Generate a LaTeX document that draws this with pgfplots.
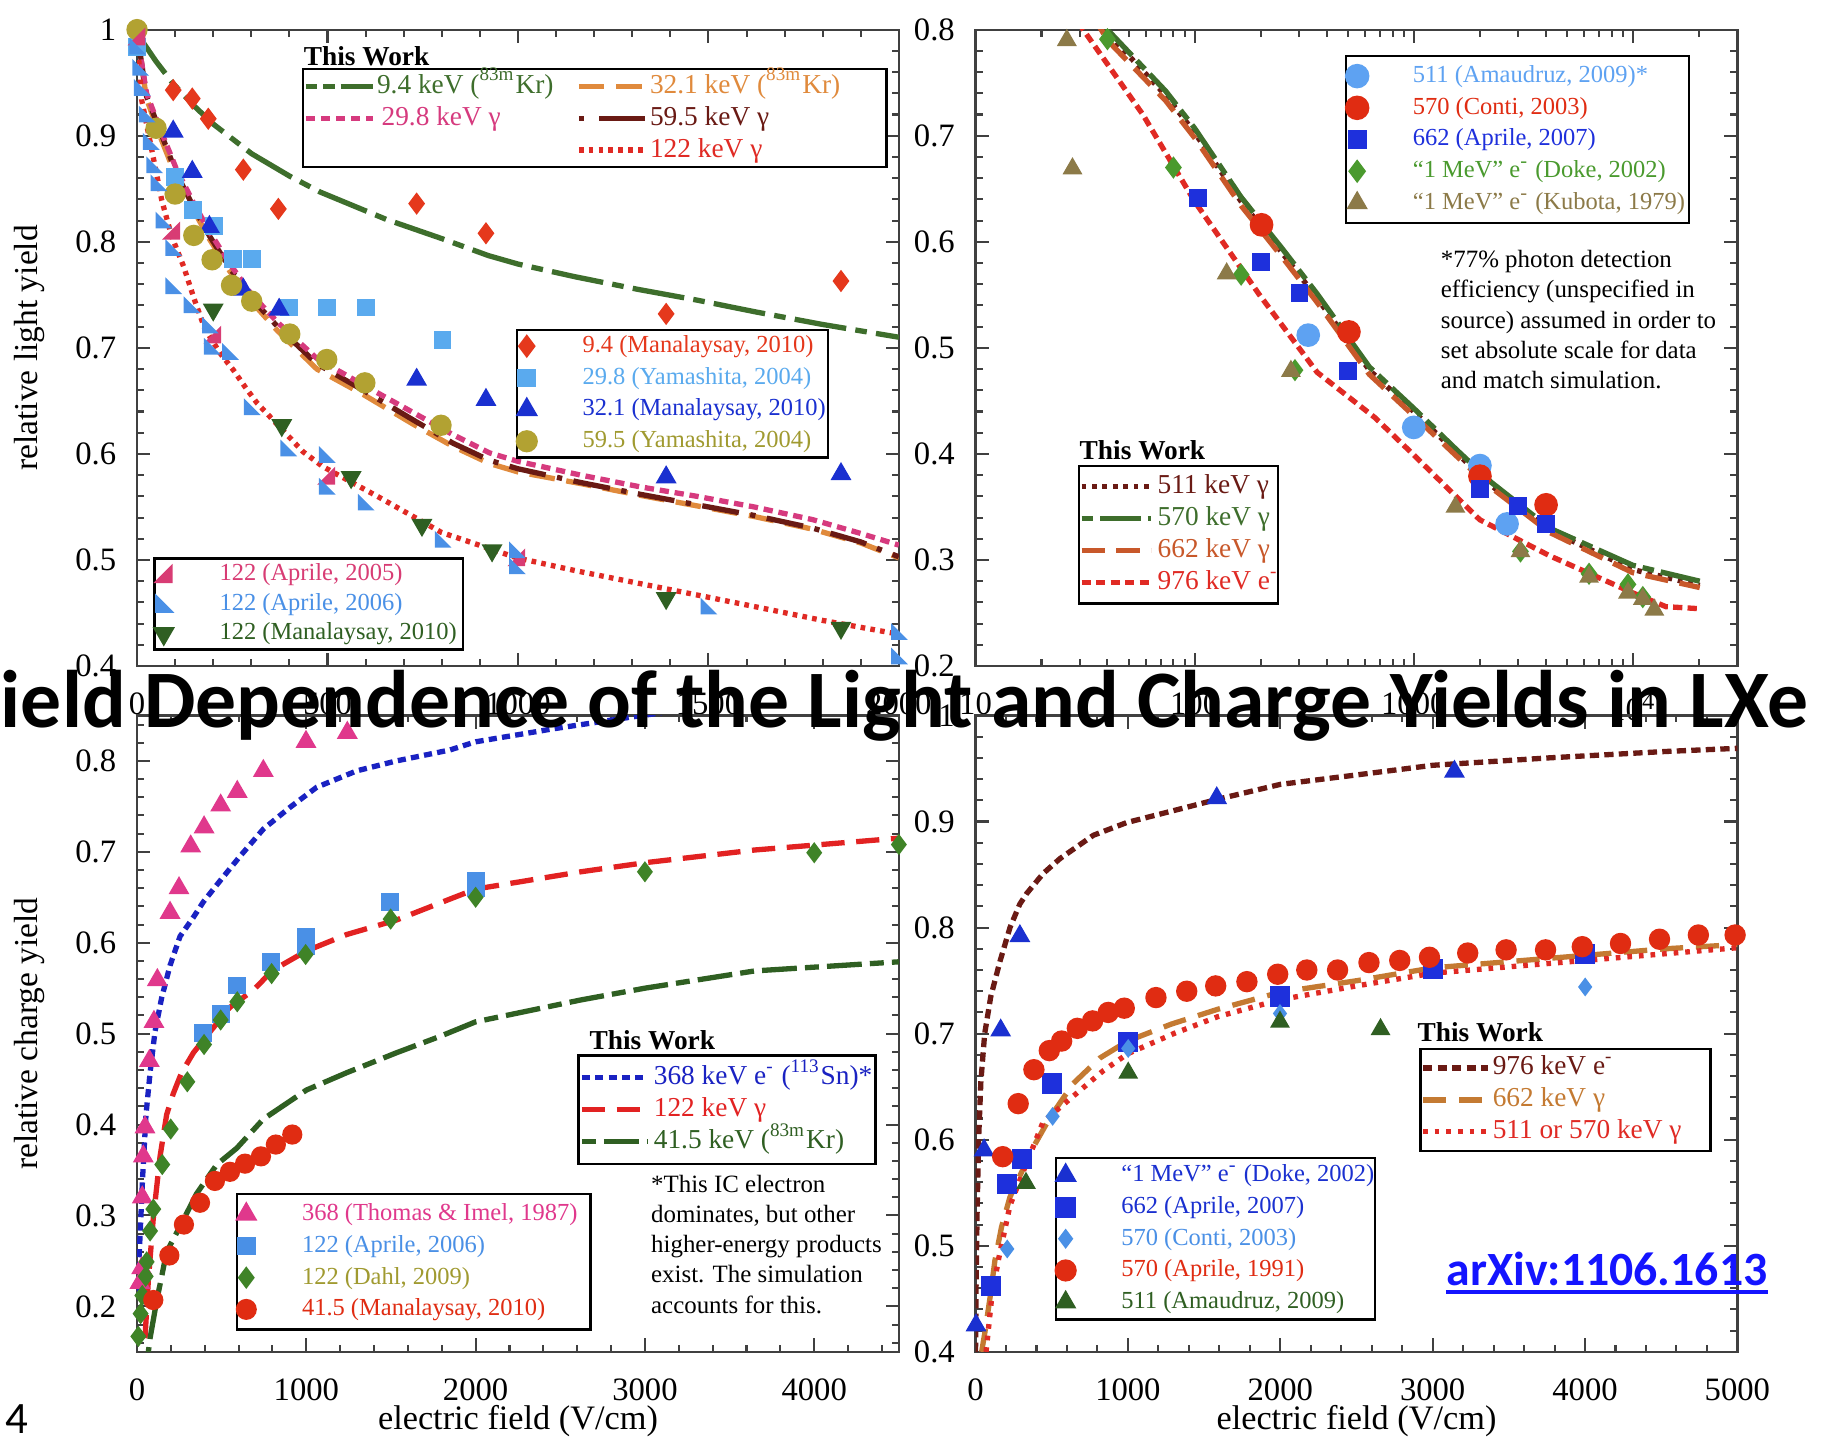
\documentclass[border=0pt]{standalone}
\usepackage{fontspec}
\setmainfont{Liberation Serif}
\newfontfamily\calibri{Carlito}
\usepackage{pgfplots}
\pgfplotsset{compat=1.18}

\definecolor{kgreen}{HTML}{3E6E2C}
\definecolor{korange}{HTML}{E08A3C}
\definecolor{kpink}{HTML}{D63A7E}
\definecolor{kmaroon}{HTML}{6A1A14}
\definecolor{kred}{HTML}{E02A24}
\definecolor{dred}{HTML}{E5381C}
\definecolor{lblue}{HTML}{5AAAEE}
\definecolor{dblue}{HTML}{1A30D0}
\definecolor{olive}{HTML}{B2A232}
\definecolor{olivet}{HTML}{A09A30}
\definecolor{apink}{HTML}{D83C74}
\definecolor{ablue}{HTML}{4A90E6}
\definecolor{mgreen}{HTML}{2F5F22}
\definecolor{cblue}{HTML}{5EA2F2}
\definecolor{cred}{HTML}{E02C12}
\definecolor{sblue}{HTML}{1E30DC}
\definecolor{dgreen}{HTML}{4A9A2E}
\definecolor{kbrown}{HTML}{8C7A48}
\definecolor{oranger}{HTML}{C8582A}
\definecolor{tpink}{HTML}{E0388C}
\definecolor{bluec}{HTML}{1A22C2}
\definecolor{redc}{HTML}{E22222}
\definecolor{brownc}{HTML}{C47A32}
\definecolor{linkblue}{HTML}{1414FF}

\pgfdeclareplotmark{ltri}{%
 \pgfpathmoveto{\pgfqpoint{-\pgfplotmarksize}{\pgfplotmarksize}}%
 \pgfpathlineto{\pgfqpoint{-\pgfplotmarksize}{-\pgfplotmarksize}}%
 \pgfpathlineto{\pgfqpoint{\pgfplotmarksize}{-\pgfplotmarksize}}%
 \pgfpathclose\pgfusepathqfillstroke}
\pgfdeclareplotmark{rtri}{%
 \pgfpathmoveto{\pgfqpoint{\pgfplotmarksize}{\pgfplotmarksize}}%
 \pgfpathlineto{\pgfqpoint{\pgfplotmarksize}{-\pgfplotmarksize}}%
 \pgfpathlineto{\pgfqpoint{-\pgfplotmarksize}{-\pgfplotmarksize}}%
 \pgfpathclose\pgfusepathqfillstroke}

\newcommand{\wb}[2]{\makebox[#1][l]{#2}}

\pgfplotsset{
  panel/.style={scale only axis, width=65.6mm, height=54.8mm, clip mode=individual,
    axis line style={black!75, line width=0.55pt},
    tick style={black!75, line width=0.5pt},
    tick align=inside, major tick length=1.15mm, minor tick length=0.6mm,
    tick label style={font=\fontsize{8}{9}\selectfont},
    /pgf/number format/assume math mode=true,
    /pgf/number format/1000 sep={},
    scaled ticks=false,
    xticklabel style={yshift=-1.1mm},
    yticklabel style={xshift=-0.55mm},
    every axis y label/.style={at={(axis description cs:-0.1418,0.5)}, rotate=90, anchor=center, font=\fontsize{8.2}{9}\selectfont},
    every axis x label/.style={at={(axis description cs:0.5,-0.1095)}, anchor=center, font=\fontsize{8.4}{10}\selectfont},
  },
  hid/.style={scale only axis, width=65.6mm, height=54.8mm, hide axis,
    xmin=0, xmax=1, ymin=0, ymax=1, legend cell align=left},
  dleg/.style={legend style={draw=black, line width=0.6pt, fill=white,
      inner xsep=0pt, inner ysep=#1, anchor=north west, column sep=0pt, row sep=0.43mm,
      font=\fontsize{6.0}{7}\selectfont,
      nodes={inner xsep=0.15mm, inner ysep=0.1mm, text height=1.6mm, text depth=0.5mm}},
    legend image code/.code={\path[draw=none] (0mm,0mm) -- (5.45mm,0mm); \draw[##1] plot coordinates {(0.8mm,0mm)};}},
  twleg/.style={legend style={draw=black, line width=0.6pt, fill=white,
      inner xsep=0pt, inner ysep=#1, anchor=north west, column sep=0pt, row sep=0.25mm,
      font=\fontsize{6.7}{8}\selectfont,
      nodes={inner xsep=0.15mm, inner ysep=0.1mm, text height=1.75mm, text depth=0.55mm}}},
  lw/.style={line width=1.3pt},
}

\begin{document}
\begin{tikzpicture}
\useasboundingbox (0,0) rectangle (156.8mm,124mm);

%================ TOP LEFT =================
\begin{axis}[panel, at={(11.8mm,66.65mm)}, anchor=south west,
  xmin=0, xmax=2000, ymin=0.4, ymax=1,
  xtick={0,500,1000,1500,2000}, minor x tick num=4,
  ytick={0.4,0.5,0.6,0.7,0.8,0.9,1}, minor y tick num=4,
  ylabel={relative light yield}]
\addplot[kgreen, lw, dash pattern=on 4.5mm off 0.8mm on 1mm off 0.8mm] coordinates {
(0,1.0) (12,0.99) (50,0.97) (95,0.949) (150,0.928) (200,0.911) (301,0.883) (400,0.862) (480,0.847) (655,0.821) (800,0.803) (922,0.787) (1000,0.779) (1150,0.767) (1317,0.755) (1470,0.745) (1622,0.734) (1800,0.722) (2000,0.710)};
\addplot[korange, lw, dash pattern=on 2.2mm off 1mm] coordinates {
(0,1.0) (8,0.975) (25,0.935) (60,0.90) (104,0.86) (148,0.83) (191,0.802) (244,0.772) (297,0.745) (369,0.716) (472,0.68) (594,0.656) (725,0.628) (830,0.607) (925,0.591) (1000,0.583) (1165,0.572) (1320,0.561) (1470,0.551) (1620,0.541) (1774,0.529) (1900,0.516) (2000,0.502)};
\addplot[kmaroon, lw, dash pattern=on 0.45mm off 1mm on 3.2mm off 1mm] coordinates {
(0,1.0) (8,0.978) (25,0.937) (60,0.905) (104,0.864) (148,0.833) (191,0.805) (244,0.775) (297,0.748) (369,0.72) (472,0.685) (594,0.660) (725,0.632) (830,0.61) (925,0.594) (1000,0.586) (1165,0.573) (1320,0.562) (1470,0.552) (1620,0.542) (1774,0.530) (1900,0.517) (2000,0.503)};
\addplot[kpink, lw, dash pattern=on 0.8mm off 0.5mm] coordinates {
(0,1.0) (8,0.978) (25,0.94) (60,0.907) (104,0.868) (148,0.837) (191,0.809) (244,0.779) (297,0.752) (369,0.724) (472,0.69) (594,0.665) (725,0.639) (830,0.618) (925,0.601) (1000,0.593) (1165,0.580) (1320,0.569) (1470,0.560) (1620,0.550) (1774,0.538) (1900,0.525) (2000,0.514)};
\addplot[kred, lw, dash pattern=on 0.4mm off 0.45mm] coordinates {
(0,0.99) (6,0.965) (12,0.934) (39,0.886) (65,0.839) (91,0.805) (122,0.777) (152,0.744) (178,0.718) (218,0.695) (253,0.679) (284,0.663) (315,0.648) (357,0.632) (436,0.602) (488,0.588) (631,0.56) (799,0.526) (997,0.502) (1150,0.49) (1317,0.478) (1470,0.467) (1622,0.456) (1800,0.443) (2000,0.43)};
\addplot[only marks, mark=diamond*, mark size=0.85mm, dred] coordinates {
(95,0.943) (145,0.935) (187,0.916) (279,0.868) (371,0.831) (734,0.836) (916,0.808) (1389,0.732) (1848,0.763)};
\addplot[only marks, mark=square*, mark size=0.7mm, lblue] coordinates {
(0,0.984) (100,0.861) (148,0.83) (202,0.815) (251,0.784) (301,0.784) (400,0.738) (499,0.738) (601,0.738) (802,0.707)};
\addplot[only marks, mark=triangle*, mark size=0.9mm, dblue] coordinates {
(95,0.904) (145,0.866) (190,0.814) (279,0.755) (373,0.736) (734,0.670) (916,0.651) (1389,0.578) (1848,0.581)};
\addplot[only marks, mark=*, mark size=0.85mm, olive] coordinates {
(0,1.0) (50,0.907) (100,0.845) (149,0.806) (197,0.783) (248,0.759) (301,0.744) (401,0.713) (498,0.689) (598,0.667) (798,0.627)};
\addplot[only marks, mark=rtri, mark size=0.65mm, apink] coordinates {
(0,0.993) (91,0.81) (199,0.712) (498,0.579) (997,0.502)};
\addplot[only marks, mark=ltri, mark size=0.6mm, ablue] coordinates {
(0,0.984) (8,0.964) (12,0.945) (25,0.92) (36,0.894) (45,0.872) (56,0.855) (69,0.82) (95,0.794) (95,0.758) (143,0.74) (191,0.721) (196,0.701) (244,0.696) (301,0.644) (397,0.605) (498,0.599) (498,0.569) (600,0.554) (802,0.519) (997,0.509) (997,0.494) (1500,0.456) (2000,0.432) (2000,0.409)};
\addplot[only marks, mark=triangle*, mark options={rotate=180}, mark size=0.9mm, mgreen] coordinates {
(200,0.736) (380,0.627) (562,0.578) (748,0.533) (932,0.509) (1389,0.464) (1848,0.436)};
\end{axis}

\begin{axis}[hid, at={(11.8mm,66.65mm)}, twleg=0.22mm, legend columns=2,
  legend style={at={(0.2165,0.9398)}},
  legend image code/.code={\path[draw=none] (0mm,0mm) -- (6.0mm,0mm); \draw[#1] (0.15mm,0mm) -- (5.9mm,0mm);}]
\addlegendimage{kgreen, lw, dash pattern=on 1mm off 0.5mm on 1mm off 0.5mm on 3mm off 0.5mm}
\addlegendentry{\textcolor{kgreen}{\wb{17.0mm}{9.4 keV (\textsuperscript{83m}Kr)}}}
\addlegendimage{korange, lw, dash pattern=on 2.2mm off 1mm}
\addlegendentry{\textcolor{korange}{\wb{20.2mm}{32.1 keV (\textsuperscript{83m}Kr)}}}
\addlegendimage{kpink, lw, dash pattern=on 0.8mm off 0.5mm}
\addlegendentry{\textcolor{kpink}{\wb{17.0mm}{\,29.8 keV γ}}}
\addlegendimage{kmaroon, lw, dash pattern=on 0.45mm off 1.3mm on 3.95mm off 1mm}
\addlegendentry{\textcolor{kmaroon}{\wb{20.2mm}{59.5 keV γ}}}
\addlegendimage{empty legend}
\addlegendentry{}
\addlegendimage{kred, lw, dash pattern=on 0.4mm off 0.45mm}
\addlegendentry{\textcolor{kred}{\wb{20.2mm}{122 keV γ}}}
\end{axis}

\begin{axis}[hid, at={(11.8mm,66.65mm)}, dleg=0.25mm, legend style={at={(0.4970,0.5301)}}]
\addlegendimage{only marks, mark=diamond*, mark size=0.85mm, dred}
\addlegendentry{\textcolor{dred}{\wb{21.0mm}{9.4 (Manalaysay, 2010)}}}
\addlegendimage{only marks, mark=square*, mark size=0.7mm, lblue}
\addlegendentry{\textcolor{lblue}{\wb{21.0mm}{29.8 (Yamashita, 2004)}}}
\addlegendimage{only marks, mark=triangle*, mark size=0.9mm, dblue}
\addlegendentry{\textcolor{dblue}{\wb{21.0mm}{32.1 (Manalaysay, 2010)}}}
\addlegendimage{only marks, mark=*, mark size=0.85mm, olive}
\addlegendentry{\textcolor{olivet}{\wb{21.0mm}{59.5 (Yamashita, 2004)}}}
\end{axis}

\begin{axis}[hid, at={(11.8mm,66.65mm)}, dleg=0.2mm, legend style={at={(0.0213,0.1706)}, row sep=0.25mm}]
\addlegendimage{only marks, mark=rtri, mark size=0.65mm, apink}
\addlegendentry{\textcolor{apink}{\wb{20.8mm}{122 (Aprile, 2005)}}}
\addlegendimage{only marks, mark=ltri, mark size=0.65mm, ablue}
\addlegendentry{\textcolor{ablue}{\wb{20.8mm}{122 (Aprile, 2006)}}}
\addlegendimage{only marks, mark=triangle*, mark options={rotate=180}, mark size=0.9mm, mgreen}
\addlegendentry{\textcolor{mgreen}{\wb{20.8mm}{122 (Manalaysay, 2010)}}}
\end{axis}

%================ TOP RIGHT =================
\begin{axis}[panel, at={(84mm,66.65mm)}, anchor=south west,
  xmode=log, xmin=10, xmax=30000, ymin=0.2, ymax=0.8,
  xtick={10,100,1000,10000}, xticklabels={10,100,1000,10\textsuperscript{4}},
  minor xtick={20,30,40,50,60,70,80,90,200,300,400,500,600,700,800,900,2000,3000,4000,5000,6000,7000,8000,9000,20000},
  ytick={0.2,0.3,0.4,0.5,0.6,0.7,0.8}, minor y tick num=4]
\addplot[kmaroon, lw, dash pattern=on 0.4mm off 0.5mm] coordinates {
(34,0.82) (40,0.797) (73.8,0.738) (100,0.703) (163,0.638) (250,0.59) (362,0.547) (627,0.479) (1000,0.44) (1567,0.401) (2265,0.370) (4170,0.328) (10000,0.291) (20200,0.276)};
\addplot[kgreen, lw, dash pattern=on 1mm off 0.6mm on 3.5mm off 0.6mm] coordinates {
(36,0.82) (40,0.80) (73.8,0.742) (100,0.707) (163,0.642) (250,0.594) (362,0.551) (627,0.482) (1000,0.443) (1567,0.404) (2265,0.373) (4170,0.330) (10000,0.295) (20200,0.280)};
\addplot[oranger, lw, dash pattern=on 2mm off 1mm] coordinates {
(34,0.815) (40,0.79) (73.8,0.733) (100,0.698) (163,0.634) (250,0.586) (362,0.543) (627,0.475) (1000,0.436) (1567,0.398) (2265,0.368) (4170,0.326) (10000,0.288) (20200,0.274)};
\addplot[kred, lw, dash pattern=on 0.8mm off 0.45mm] coordinates {
(25,0.83) (31,0.80) (58,0.72) (100,0.638) (196,0.551) (362,0.477) (667,0.434) (1000,0.399) (2000,0.338) (4170,0.304) (10000,0.269) (14150,0.256) (20400,0.254)};
\addplot[only marks, mark=*, mark size=0.95mm, cblue] coordinates {
(330,0.512) (1000,0.425) (2005,0.389) (2667,0.334)};
\addplot[only marks, mark=*, mark size=0.95mm, cred] coordinates {
(202,0.616) (506,0.515) (2005,0.379) (4018,0.352)};
\addplot[only marks, mark=square*, mark size=0.7mm, sblue] coordinates {
(104,0.641) (200,0.581) (301,0.552) (503,0.478) (2005,0.367) (3000,0.351) (4018,0.334)};
\addplot[only marks, mark=diamond*, mark size=0.85mm, dgreen] coordinates {
(40,0.791) (80,0.670) (163,0.569) (287,0.479) (3070,0.308) (6310,0.287) (9500,0.277) (11100,0.265)};
\addplot[only marks, mark=triangle*, mark size=0.85mm, kbrown] coordinates {
(26.1,0.79) (27.7,0.669) (140,0.570) (275,0.478) (1550,0.35) (3070,0.308) (6310,0.284) (9500,0.269) (11100,0.263) (12530,0.253)};
\end{axis}

\begin{axis}[hid, at={(84mm,66.65mm)}, dleg=0.6mm, legend style={at={(0.4848,0.9608)}}]
\addlegendimage{only marks, mark=*, mark size=0.95mm, cblue}
\addlegendentry{\textcolor{cblue}{\wb{23.6mm}{511 (Amaudruz, 2009)*}}}
\addlegendimage{only marks, mark=*, mark size=0.95mm, cred}
\addlegendentry{\textcolor{cred}{\wb{23.6mm}{570 (Conti, 2003)}}}
\addlegendimage{only marks, mark=square*, mark size=0.7mm, sblue}
\addlegendentry{\textcolor{sblue}{\wb{23.6mm}{662 (Aprile, 2007)}}}
\addlegendimage{only marks, mark=diamond*, mark size=0.85mm, dgreen}
\addlegendentry{\textcolor{dgreen}{\wb{23.6mm}{“1 MeV” e\textsuperscript{-} (Doke, 2002)}}}
\addlegendimage{only marks, mark=triangle*, mark size=0.85mm, kbrown}
\addlegendentry{\textcolor{kbrown}{\wb{23.6mm}{“1 MeV” e\textsuperscript{-} (Kubota, 1979)}}}
\end{axis}

\begin{axis}[hid, at={(84mm,66.65mm)}, twleg=0.55mm, legend style={at={(0.1341,0.3166)}},
  legend image code/.code={\path[draw=none] (0mm,0mm) -- (6.6mm,0mm); \draw[#1] (0.2mm,0mm) -- (6.2mm,0mm);}]
\addlegendimage{kmaroon, lw, dash pattern=on 0.4mm off 0.5mm}
\addlegendentry{\textcolor{kmaroon}{\wb{10.2mm}{511 keV γ}}}
\addlegendimage{kgreen, lw, dash pattern=on 1mm off 0.6mm on 3.5mm off 0.6mm}
\addlegendentry{\textcolor{kgreen}{\wb{10.2mm}{570 keV γ}}}
\addlegendimage{oranger, lw, dash pattern=on 2mm off 1mm}
\addlegendentry{\textcolor{oranger}{\wb{10.2mm}{662 keV γ}}}
\addlegendimage{kred, lw, dash pattern=on 0.8mm off 0.45mm}
\addlegendentry{\textcolor{kred}{\wb{10.2mm}{976 keV e\textsuperscript{-}}}}
\end{axis}

%================ BOTTOM LEFT =================
\begin{axis}[panel, at={(11.8mm,7.6mm)}, anchor=south west,
  xmin=0, xmax=4500, ymin=0.15, ymax=0.85,
  xtick={0,1000,2000,3000,4000}, minor xtick={200,400,...,4400},
  ytick={0.2,0.3,0.4,0.5,0.6,0.7,0.8}, minor ytick={0.16,0.18,...,0.84},
  xlabel={electric field (V/cm)}, ylabel={relative charge yield}]
\addplot[bluec, lw, dash pattern=on 0.7mm off 0.45mm] coordinates {
(1,0.21) (17,0.274) (33,0.342) (53,0.411) (77,0.457) (106,0.502) (145,0.539) (195,0.575) (254,0.607) (333,0.628) (392,0.645) (490,0.668) (608,0.695) (746,0.725) (904,0.749) (1061,0.771) (1297,0.789) (1533,0.80) (1848,0.812) (2000,0.821) (2449,0.835) (2912,0.848) (3100,0.853)};
\addplot[redc, lw, dash pattern=on 2mm off 1mm] coordinates {
(47,0.165) (67,0.229) (96,0.297) (136,0.365) (175,0.411) (214,0.434) (263,0.457) (333,0.479) (431,0.502) (549,0.529) (687,0.548) (804,0.57) (1001,0.591) (1238,0.609) (1533,0.625) (1848,0.648) (2000,0.659) (2620,0.678) (3000,0.688) (3649,0.702) (4500,0.715)};
\addplot[mgreen, lw, dash pattern=on 1.2mm off 0.7mm on 3mm off 0.7mm] coordinates {
(60,0.14) (77,0.165) (116,0.206) (175,0.26) (254,0.288) (352,0.324) (471,0.356) (589,0.374) (746,0.406) (1001,0.438) (1238,0.457) (1533,0.479) (1790,0.497) (2000,0.513) (2620,0.537) (3000,0.55) (3649,0.569) (4500,0.579)};
\addplot[only marks, mark=triangle*, mark size=0.9mm, tpink] coordinates {
(17,0.226) (27,0.242) (31,0.32) (37,0.365) (47,0.397) (73,0.47) (100,0.513) (120,0.559) (195,0.633) (248,0.660) (317,0.706) (396,0.727) (494,0.751) (592,0.766) (746,0.789) (998,0.821) (1242,0.831)};
\addplot[only marks, mark=square*, mark size=0.7mm, ablue] coordinates {
(391,0.501) (494,0.522) (592,0.553) (791,0.579) (996,0.606) (998,0.596) (1494,0.645) (2000,0.668) (2000,0.66)};
\addplot[only marks, mark=diamond*, mark size=0.8mm, dgreen!85!black] coordinates {
(8,0.167) (21,0.192) (31,0.212) (51,0.233) (57,0.249) (77,0.283) (96,0.307) (149,0.356) (199,0.395) (297,0.447) (396,0.488) (494,0.515) (592,0.535) (795,0.566) (996,0.587) (1498,0.626) (2000,0.65) (3000,0.678) (4000,0.699) (4500,0.708)};
\addplot[only marks, mark=*, mark size=0.8mm, cred] coordinates {
(96,0.207) (191,0.256) (277,0.29) (372,0.314) (460,0.338) (549,0.348) (638,0.357) (732,0.365) (820,0.378) (917,0.389)};
\end{axis}

\begin{axis}[hid, at={(11.8mm,7.6mm)}, twleg=0.65mm, legend style={at={(0.5777,0.4672)}},
  legend image code/.code={\path[draw=none] (0mm,0mm) -- (6.35mm,0mm); \draw[#1] (0.3mm,0mm) -- (6.0mm,0mm);}]
\addlegendimage{bluec, lw, dash pattern=on 0.7mm off 0.45mm}
\addlegendentry{\textcolor{bluec}{\wb{18.95mm}{368 keV e\textsuperscript{-} (\textsuperscript{113}Sn)*}}}
\addlegendimage{redc, lw, dash pattern=on 2mm off 1mm}
\addlegendentry{\textcolor{redc}{\wb{18.95mm}{122 keV γ}}}
\addlegendimage{mgreen, lw, dash pattern=on 1.2mm off 0.7mm on 3mm off 0.7mm}
\addlegendentry{\textcolor{mgreen}{\wb{18.95mm}{41.5 keV (\textsuperscript{83m}Kr)}}}
\end{axis}

\begin{axis}[hid, at={(11.8mm,7.6mm)}, dleg=0.6mm, legend style={at={(0.1296,0.2500)}}]
\addlegendimage{only marks, mark=triangle*, mark size=0.9mm, tpink}
\addlegendentry{\textcolor{tpink}{\wb{24.7mm}{368 (Thomas \& Imel, 1987)}}}
\addlegendimage{only marks, mark=square*, mark size=0.7mm, ablue}
\addlegendentry{\textcolor{ablue}{\wb{24.7mm}{122 (Aprile, 2006)}}}
\addlegendimage{only marks, mark=diamond*, mark size=0.8mm, dgreen!85!black}
\addlegendentry{\textcolor{olivet}{\wb{24.7mm}{122 (Dahl, 2009)}}}
\addlegendimage{only marks, mark=*, mark size=0.8mm, cred}
\addlegendentry{\textcolor{cred}{\wb{24.7mm}{41.5 (Manalaysay, 2010)}}}
\end{axis}

%================ BOTTOM RIGHT =================
\begin{axis}[panel, at={(84mm,7.6mm)}, anchor=south west,
  xmin=0, xmax=5000, ymin=0.4, ymax=1,
  xtick={0,1000,2000,3000,4000,5000}, minor x tick num=4,
  ytick={0.4,0.5,0.6,0.7,0.8,0.9,1}, minor y tick num=4,
  xlabel={electric field (V/cm)}]
\addplot[kmaroon, lw, dash pattern=on 0.8mm off 0.45mm] coordinates {
(0,0.40) (4,0.47) (10,0.53) (20,0.60) (35,0.655) (60,0.70) (100,0.735) (160,0.768) (226,0.80) (290,0.822) (335,0.832) (444,0.851) (554,0.865) (773,0.887) (992,0.899) (1320,0.911) (1590,0.921) (2000,0.935) (2506,0.944) (3001,0.953) (3764,0.96) (4527,0.966) (5000,0.969)};
\addplot[brownc, lw, dash pattern=on 2mm off 1.1mm] coordinates {
(40,0.40) (62,0.419) (95,0.451) (127,0.486) (171,0.518) (226,0.546) (291,0.566) (379,0.593) (489,0.621) (641,0.653) (816,0.677) (998,0.693) (1285,0.709) (1590,0.723) (1998,0.739) (2506,0.75) (3001,0.762) (3764,0.771) (4527,0.78) (5000,0.784)};
\addplot[kred, lw, dash pattern=on 0.4mm off 0.6mm] coordinates {
(69,0.40) (106,0.451) (149,0.486) (226,0.538) (335,0.578) (444,0.617) (641,0.641) (838,0.665) (998,0.681) (1300,0.70) (1590,0.716) (1998,0.732) (2500,0.745) (3001,0.757) (4000,0.769) (5000,0.781)};
\addplot[only marks, mark=triangle*, mark size=0.9mm, dblue] coordinates {
(3,0.425) (56,0.590) (165,0.703) (291,0.792) (1583,0.922) (3143,0.947)};
\addplot[only marks, mark=square*, mark size=0.8mm, sblue] coordinates {
(99,0.462) (208,0.558) (303,0.582) (504,0.653) (999,0.692) (1998,0.735) (3001,0.761) (4001,0.775)};
\addplot[only marks, mark=diamond*, mark size=0.7mm, ablue] coordinates {
(208,0.497) (506,0.622) (1002,0.686) (1998,0.719) (4001,0.744)};
\addplot[only marks, mark=*, mark size=0.85mm, cred] coordinates {
(178,0.584) (280,0.634) (383,0.666) (484,0.684) (565,0.693) (668,0.705) (768,0.712) (871,0.72) (976,0.724) (1184,0.734) (1386,0.74) (1576,0.745) (1781,0.749) (1983,0.756) (2174,0.76) (2376,0.76) (2582,0.767) (2784,0.769) (2979,0.772) (3230,0.776) (3482,0.779) (3741,0.779) (3982,0.782) (4233,0.785) (4489,0.789) (4744,0.793) (4985,0.793)};
\addplot[only marks, mark=triangle*, mark size=0.85mm, mgreen] coordinates {
(331,0.559) (1002,0.663) (1998,0.711) (2658,0.704)};
\end{axis}

\begin{axis}[hid, at={(84mm,7.6mm)}, twleg=0.4mm, legend style={at={(0.5823,0.4781)}},
  legend image code/.code={\path[draw=none] (0mm,0mm) -- (6.05mm,0mm); \draw[#1] (0.2mm,0mm) -- (5.8mm,0mm);}]
\addlegendimage{kmaroon, lw, dash pattern=on 0.8mm off 0.45mm}
\addlegendentry{\textcolor{kmaroon}{\wb{18.6mm}{976 keV e\textsuperscript{-}}}}
\addlegendimage{brownc, lw, dash pattern=on 2mm off 1.1mm}
\addlegendentry{\textcolor{brownc}{\wb{18.6mm}{662 keV γ}}}
\addlegendimage{kred, lw, dash pattern=on 0.4mm off 0.6mm}
\addlegendentry{\textcolor{kred}{\wb{18.6mm}{511 or 570 keV γ}}}
\end{axis}

\begin{axis}[hid, at={(84mm,7.6mm)}, dleg=0.35mm, legend style={at={(0.1037,0.3066)}}]
\addlegendimage{only marks, mark=triangle*, mark size=0.9mm, dblue}
\addlegendentry{\textcolor{dblue}{\wb{21.7mm}{“1 MeV” e\textsuperscript{-} (Doke, 2002)}}}
\addlegendimage{only marks, mark=square*, mark size=0.8mm, sblue}
\addlegendentry{\textcolor{dblue}{\wb{21.7mm}{662 (Aprile, 2007)}}}
\addlegendimage{only marks, mark=diamond*, mark size=0.7mm, ablue}
\addlegendentry{\textcolor{ablue}{\wb{21.7mm}{570 (Conti, 2003)}}}
\addlegendimage{only marks, mark=*, mark size=0.85mm, cred}
\addlegendentry{\textcolor{cred}{\wb{21.7mm}{570 (Aprile, 1991)}}}
\addlegendimage{only marks, mark=triangle*, mark size=0.85mm, mgreen}
\addlegendentry{\textcolor{mgreen}{\wb{21.7mm}{511 (Amaudruz, 2009)}}}
\end{axis}

%================ TEXT =================
\begin{scope}[every node/.style={inner sep=0pt}]
\node[anchor=base west, font=\fontsize{6.7}{8}\selectfont\bfseries] at (26.1mm,118.4mm) {This Work};
\node[anchor=base west, font=\fontsize{6.7}{8}\selectfont\bfseries] at (92.9mm,84.4mm) {This Work};
\node[anchor=base west, font=\fontsize{6.7}{8}\selectfont\bfseries] at (50.7mm,33.6mm) {This Work};
\node[anchor=base west, font=\fontsize{6.7}{8}\selectfont\bfseries] at (122.0mm,34.3mm) {This Work};
\node[anchor=north west, align=left, font=\fontsize{6.1}{7.4}\selectfont] at (124.0mm,102.5mm)
  {*77\% photon detection\\efficiency (unspecified in\\source) assumed in order to\\set absolute scale for data\\and match simulation.};
\node[anchor=north west, align=left, font=\fontsize{6.1}{7.4}\selectfont] at (56.0mm,22.9mm)
  {*This IC electron\\dominates, but other\\higher-energy products\\exist. The simulation\\accounts for this.};
\node[anchor=base west, font=\calibri\bfseries\fontsize{11.7}{13}\selectfont, text=linkblue] (ax) at (124.5mm,13.3mm) {arXiv:1106.1613};
\draw[linkblue, line width=0.3mm] ([yshift=-0.55mm]ax.base west) -- ([yshift=-0.55mm]ax.base east);
\node[anchor=base west, font=\calibri\fontsize{11}{13}\selectfont] at (0.4mm,0.6mm) {4};
\node[anchor=base east, font=\calibri\bfseries\fontsize{20}{22}\selectfont] at (155.8mm,61.4mm)
  {Field Dependence of the Light and Charge Yields in LXe};
\end{scope}
\end{tikzpicture}
\end{document}
